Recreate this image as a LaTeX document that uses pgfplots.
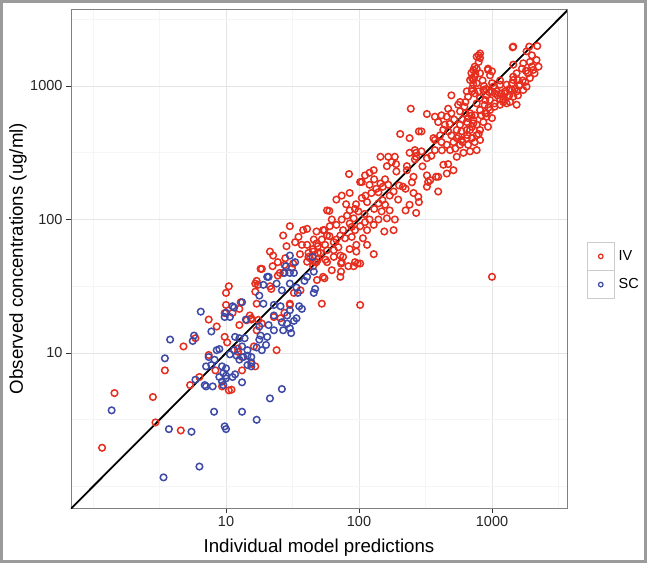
\documentclass[border=0pt]{standalone}
\usepackage{fontspec}
\setmainfont{Liberation Sans}
\usepackage{pgfplots}
\pgfplotsset{compat=1.18}
\definecolor{ivred}{RGB}{230,45,30}
\definecolor{scblue}{RGB}{62,74,166}
\definecolor{framegray}{RGB}{155,155,155}
\begin{document}
\begin{tikzpicture}
\useasboundingbox (0,0) rectangle (647bp,563bp);
\fill[white] (0,0) rectangle (647bp,563bp);
\begin{axis}[
  at={(71bp,55bp)}, anchor=south west,
  scale only axis, width=496bp, height=499bp,
  xmode=log, ymode=log,
  xmin=0.683, xmax=3664, ymin=0.69, ymax=3775,
  xtick={10,100,1000}, xticklabels={10,100,1000},
  ytick={10,100,1000}, yticklabels={10,100,1000},
  minor xtick={1,3.1623,31.623,316.23,3162.3},
  minor ytick={1,3.1623,31.623,316.23,3162.3},
  xtick pos=bottom, ytick pos=left,
  tick align=outside, major tick length=5bp, minor tick length=0pt,
  tick style={color=black!80, line width=0.9bp},
  grid=both,
  major grid style={color=black!10, line width=0.9bp},
  minor grid style={color=black!4, line width=0.6bp},
  axis line style={color=black!50, line width=0.9bp},
  ticklabel style={font=\fontsize{14.5bp}{17bp}\selectfont, text=black!85},
  xlabel={Individual model predictions},
  ylabel={Observed concentrations (ug/ml)},
  label style={font=\fontsize{18.7bp}{22bp}\selectfont},
  xlabel style={at={(axis description cs:0.5,-0.0802)}, anchor=center},
  ylabel style={at={(axis description cs:-0.107,0.5)}, anchor=center},
  legend style={
    at={(axis description cs:1.0397,0.5325)}, anchor=north west,
    draw=none, fill=none, inner sep=0pt, outer sep=0pt,
    row sep=0pt, column sep=3.7bp,
    font=\fontsize{14.5bp}{17bp}\selectfont,
    nodes={inner sep=0pt, outer sep=0pt},
    cells={anchor=west},
  },
  legend cell align=left,
  legend image code/.code={
    \draw[draw=black!20, fill=white, line width=0.9bp] (0bp,-13.65bp) rectangle (27.3bp,13.65bp);
    \draw[#1, mark size=2.3bp, line width=1.2bp] plot coordinates {(13.65bp,0bp)};
  },
]
\addplot[only marks, mark=o, mark size=3.3bp, color=ivred, line width=1.5bp] coordinates {
(1.17,1.95) (1.45,5.01) (2.82,4.68) (2.95,3.02) (4.57,2.63) (3.47,7.41) (5.37,5.75) (6.31,6.61)
(8.32,7.41) (9.33,5.62) (10.5,5.25) (4.79,11.2) (5.89,12.9) (9.77,13.2) (10.2,12.0) (7.41,9.66)
(11.0,5.31) (24.0,10.5) (52.5,23.4) (102,22.9) (1000,37.2) (10.5,31.6) (10.0,28.2) (7.41,17.8)
(8.51,15.8) (10.0,22.9) (9.77,19.9) (11.2,20.0) (12.6,21.4) (12.6,16.2) (15.1,19.1) (15.5,17.8)
(16.6,33.1) (17.0,34.7) (18.2,42.7) (21.4,57.5) (22.4,44.7) (24.5,38.0) (26.9,39.8) (21.4,31.6)
(17.0,23.4) (17.0,14.8) (16.2,11.2) (12.3,10.8) (13.2,9.33) (16.6,7.94) (13.2,7.41) (22.9,18.6)
(25.7,18.2) (27.5,20.0) (30.2,23.4) (32.4,28.2) (36.3,29.5) (40.7,48.3) (41.7,52.5) (46.8,47.9)
(48.3,35.2) (53.7,37.2) (57.5,47.9) (64.6,52.5) (72.4,53.7) (75.9,52.5) (73.3,46.8) (73.3,40.7)
(72.4,37.2) (91.2,44.7) (97.7,46.8) (95.5,57.5) (40.7,85.1) (47.9,81.3) (55.0,83.2) (57.5,75.9)
(52.5,70.8) (47.9,66.1) (18.6,42.7) (41.7,56.2) (45.2,57.5) (49.0,56.2) (57.5,58.9) (47.9,47.9)
(55.0,36.3) (17.4,32.4) (16.6,28.8) (21.9,30.2) (12.9,24.0) (14.3,17.6) (15.5,18.2) (17.5,17.7)
(18.6,16.6) (12.3,10.2) (15.5,8.32) (30.2,22.9) (204,437) (240,407) (282,457) (145,295)
(166,295) (176,269) (162,251) (191,229) (229,251) (263,282) (240,316) (269,316)
(84.1,219) (105,191) (120,224) (129,234) (111,214) (102,191) (145,186) (157,200)
(166,182) (182,162) (170,151) (197,141) (224,170) (257,158) (282,135) (240,129)
(224,117) (269,112) (120,182) (135,170) (124,158) (112,151) (105,145) (115,135)
(140,132) (157,129) (170,117) (148,115) (162,102) (186,100) (182,83.2) (155,81.3)
(140,100) (67.6,141) (74.1,151) (85.1,158) (57.5,117) (62.4,100) (53.7,83.2) (67.6,91.2)
(74.1,100) (81.3,107) (85.1,117) (93.3,120) (98.9,115) (91.2,102) (85.1,93.3) (75.9,83.2)
(72.4,75.9) (67.6,70.8) (78.5,72.4) (88.1,74.1) (93.3,83.2) (102,89.1) (111,95.5) (120,100)
(129,91.2) (115,83.2) (107,72.4) (95.5,64.6) (115,64.6) (129,55.0) (93.3,47.9) (74.1,47.9)
(102,46.8) (60.3,89.1) (38.0,83.2) (45.7,70.8) (49.0,63.1) (55.6,64.6) (64.6,67.6) (64.6,58.9)
(51.3,56.2) (40.7,64.6) (42.7,51.3) (49.0,50.1) (62.4,41.7) (83.2,44.7) (30.2,89.1) (26.9,75.9)
(33.1,67.6) (35.1,74.1) (37.2,64.6) (28.5,63.1) (22.6,53.7) (24.5,47.9) (27.5,45.7)
(794,1514) (767,1349) (741,1175) (684,1109) (724,1023) (767,1047) (933,1318) (966,1202)
(1445,1445) (1531,1245) (1445,1109) (1288,1023) (1413,933) (1531,912) (1318,832) (1216,759)
(1288,741) (1148,724) (1047,881) (1000,912) (912,851) (966,785) (1047,741) (966,661)
(912,589) (832,603) (767,741) (813,813) (741,881) (708,912) (646,912) (661,832)
(631,759) (575,759) (556,724) (495,851) (468,676) (575,646) (631,624) (684,624)
(741,603) (724,556) (646,537) (575,513) (543,468) (589,457) (646,468) (708,495)
(767,513) (813,468) (767,427) (708,407) (646,407) (589,394) (543,407) (495,427)
(468,457) (513,380) (575,363) (661,363) (741,380) (813,394) (767,331) (684,324)
(610,316) (543,295) (484,331) (457,363) (417,380) (407,427) (372,394) (442,513)
(394,537) (372,589) (457,589) (495,624) (417,603) (245,676) (324,617) (295,457)
(431,257) (468,260) (394,209) (324,214) (343,197) (295,324) (324,288) (372,331)
(263,331) (269,295) (1429,1950) (1905,1972) (2188,1995) (1820,1820) (1995,1698) (2163,1567)
(1928,1514) (2239,1396) (2042,1318) (2089,1245) (1862,1245) (1718,1479) (1679,1349) (1445,1175)
(1567,1109) (1413,1047) (1479,955) (1622,1023) (1778,1072) (1928,1148) (1820,989) (1567,851)
(1445,832) (1349,851) (1216,785) (1175,881) (1259,912) (1365,759) (1531,724) (794,1698)
(813,1622) (741,1396) (724,1318) (708,1148) (708,955) (794,912) (861,933) (933,1349)
(1000,1288) (891,785) (1084,912) (1148,1023) (813,661) (891,624) (1000,575) (861,537)
(933,495) (661,575) (724,525) (794,437) (684,468) (27.9,51.3) (32.0,46.8) (31.3,43.2)
(25.4,39.8) (45.2,44.7) (363,407) (59.8,116) (331,191) (380,209) (724,1109) (813,1245)
(1023,989) (1445,1972) (1718,933) (813,1753) (767,1660) (912,624) (1047,700) (186,295)
(151,176) (229,234) (257,209) (214,176) (279,148) (324,176) (394,162) (457,221) (513,234)
(700,1250) (750,1230) (850,1100) (870,1000) (900,950) (950,900) (1100,850) (1150,800)
(1250,880) (1350,950) (1600,1000) (1700,1100) (1800,1300) (2000,1400) (1150,1100) (1000,1050)
(880,720) (940,690) (620,700) (600,560) (520,560) (480,520) (430,470) (650,430)
(700,600) (560,420) (530,340) (600,380) (130,200) (95,130) (80,130) (110,110)
(130,120) (150,140) (60,75) (85,60) (70,62) (45,60) (36,55) (200,180)
(250,190) (300,250) (350,300) (420,330) (190,260) (140,160) (88,88) (56,50)
};
\addlegendentry{IV}
\addplot[only marks, mark=o, mark size=3.3bp, color=scblue, line width=1.5bp] coordinates {
(1.38,3.72) (3.39,1.17) (6.31,1.41) (3.72,2.69) (5.50,2.57) (8.13,3.63) (9.77,2.82) (10.0,2.69)
(13.2,3.63) (17.0,3.16) (21.4,4.57) (26.3,5.37) (3.47,9.12) (3.80,12.6) (6.46,20.4) (5.75,13.5)
(5.62,12.3) (7.76,14.5) (9.77,18.6) (11.2,22.4) (13.2,24.0) (11.7,13.2) (8.51,10.5) (8.91,10.7)
(7.41,9.33) (7.08,7.94) (5.89,6.31) (6.92,5.75) (7.08,5.62) (7.94,5.62) (9.55,5.75) (13.2,6.03)
(9.33,7.94) (10.0,7.67) (9.55,7.08) (8.91,6.61) (10.0,6.46) (9.33,6.10) (10.0,6.76) (11.7,6.92)
(11.2,6.61) (12.6,8.91) (13.5,9.33) (12.0,9.55) (15.5,9.33) (14.5,10.5) (17.0,11.0) (18.6,10.5)
(20.0,11.5) (17.8,12.6) (20.4,13.2) (18.2,13.5) (13.8,12.9) (14.5,8.13) (15.5,7.94) (19.1,32.4)
(20.9,37.2) (24.0,33.1) (26.3,29.5) (30.2,33.1) (34.7,28.2) (35.5,22.4) (37.2,21.4) (30.2,20.9)
(25.7,22.4) (22.9,22.9) (19.1,23.4) (17.8,26.9) (22.9,19.1) (20.9,16.2) (26.9,14.8) (30.2,15.3)
(30.9,14.1) (22.9,14.8) (30.2,53.7) (33.1,47.9) (28.2,44.7) (30.2,39.8) (40.7,37.2) (45.7,40.7)
(44.7,52.5) (46.8,30.2) (45.7,28.2) (38.9,34.7) (33.9,30.9) (26.3,17.0) (28.8,16.6) (17.8,15.8)
(14.1,17.8) (10.0,20.0) (10.7,18.6) (11.5,21.9) (20.4,37.2) (27.5,39.8) (32.4,39.8) (33.9,18.2)
(32.4,17.4) (28.8,19.1) (12.6,12.9) (13.2,11.2) (11.5,10.5) (10.7,9.77) (14.5,9.55) (15.5,8.51)
(8.2,8.9) (7.76,8.13)
};
\addlegendentry{SC}
\addplot[black, line width=1.8bp, forget plot] coordinates {(0.5,0.5) (5000,5000)};
\end{axis}
\draw[framegray, line width=6bp] (0,0) rectangle (647bp,563bp);
\end{tikzpicture}
\end{document}
